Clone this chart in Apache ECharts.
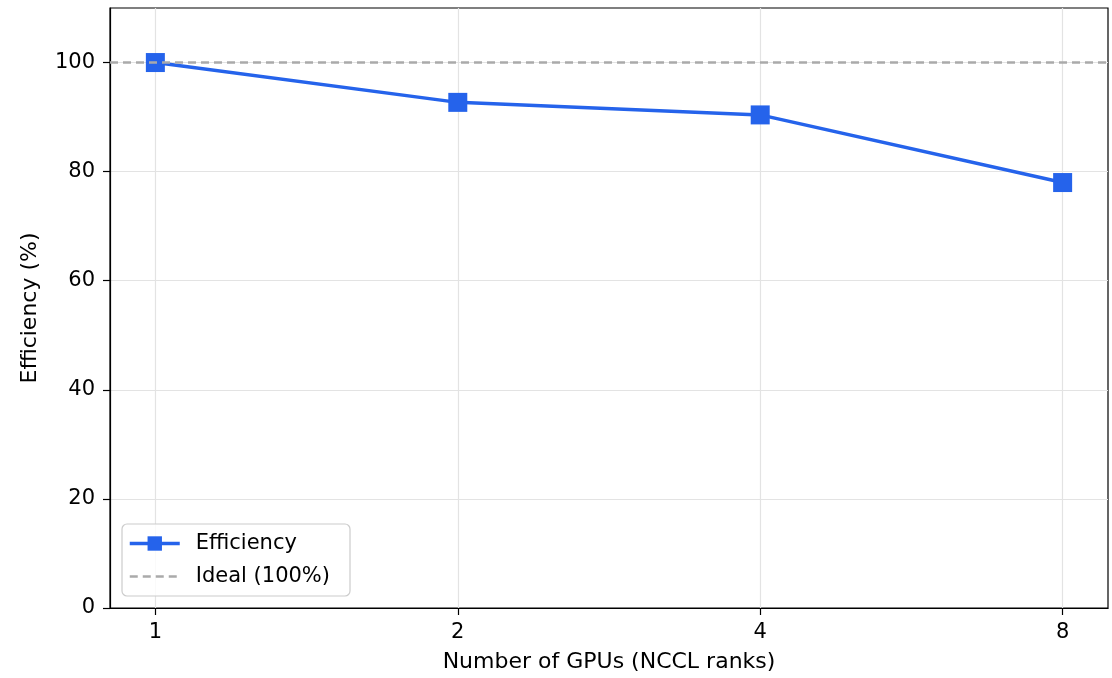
<!DOCTYPE html>
<html>
<head>
<meta charset="utf-8">
<script src="https://cdn.jsdelivr.net/npm/echarts@6/dist/echarts.min.js"></script>
<style>
  html, body { margin: 0; padding: 0; background: #ffffff; }
  #chart { width: 1112px; height: 678px; }
</style>
</head>
<body>
<div id="chart"></div>
<script>
// GPU counts (shown as evenly spaced categories) and measured scaling efficiency
const gpuLabels = ['1', '2', '4', '8'];
const efficiency = [100, 92.7, 90.4, 78.0];
const idealLevel = 100;
const yTicks = [0, 20, 40, 60, 80, 100];

const FONT = 'DejaVu Sans';
const BLUE = '#2563eb';
const GRAY = '#aaaaaa';

const positions = gpuLabels.map((_, i) => i);
const points = efficiency.map((v, i) => [positions[i], v]);

const chart = echarts.init(document.getElementById('chart'), null, { renderer: 'canvas' });

chart.setOption({
  animation: false,
  backgroundColor: '#ffffff',
  grid: {
    left: 110, right: 4, top: 8, bottom: 70,
    show: true, borderColor: '#000000', borderWidth: 1.2, backgroundColor: 'transparent'
  },
  xAxis: {
    type: 'value',
    min: -0.15,
    max: 3.15,
    name: 'Number of GPUs (NCCL ranks)',
    nameLocation: 'middle',
    nameGap: 43,
    nameTextStyle: { fontFamily: FONT, fontSize: 22, color: '#000' },
    axisLine: { show: true, onZero: false, lineStyle: { color: '#000', width: 1.2 } },
    axisTick: { show: true, length: 7, customValues: positions, lineStyle: { color: '#000', width: 1.2 } },
    axisLabel: {
      customValues: positions,
      margin: 14,
      fontFamily: FONT, fontSize: 21, color: '#000',
      formatter: v => gpuLabels[Math.round(v)]
    },
    splitLine: { show: true, lineStyle: { color: '#e3e3e3', width: 1.2 } }
  },
  yAxis: {
    type: 'value',
    min: 0,
    max: 110,
    name: 'Efficiency (%)',
    nameLocation: 'middle',
    nameGap: 69,
    nameTextStyle: { fontFamily: FONT, fontSize: 22, color: '#000' },
    axisLine: { show: true, onZero: false, lineStyle: { color: '#000', width: 1.2 } },
    axisTick: { show: true, length: 7, customValues: yTicks, lineStyle: { color: '#000', width: 1.2 } },
    axisLabel: {
      customValues: yTicks,
      margin: 15,
      fontFamily: FONT, fontSize: 21, color: '#000'
    },
    splitLine: { show: true, lineStyle: { color: '#e3e3e3', width: 1.2 } }
  },
  legend: {
    orient: 'vertical',
    left: 122,
    top: 524,
    padding: [9, 20, 9, 6],
    itemGap: 12,
    itemWidth: 50,
    itemHeight: 18,
    borderColor: '#cccccc',
    borderWidth: 1.2,
    borderRadius: 5,
    backgroundColor: 'rgba(255,255,255,0.8)',
    textStyle: { fontFamily: FONT, fontSize: 21, color: '#000', padding: [0, 0, 0, 11] },
    data: [
      { name: 'Efficiency', lineStyle: { width: 3.5 } },
      {
        name: 'Ideal (100%)',
        itemStyle: { color: 'rgba(0,0,0,0)', borderWidth: 0 },
        lineStyle: { width: 2.5 }
      }
    ]
  },
  series: [
    {
      name: 'Ideal (100%)',
      type: 'line',
      data: [],
      symbol: 'none',
      lineStyle: { color: GRAY, width: 2.5, type: [8, 5] },
      itemStyle: { color: GRAY },
      markLine: {
        silent: true,
        symbol: 'none',
        label: { show: false },
        lineStyle: { color: GRAY, width: 2.5, type: [8, 5] },
        data: [{ yAxis: idealLevel }]
      },
      z: 1
    },
    {
      name: 'Efficiency',
      type: 'line',
      data: points,
      symbol: 'rect',
      symbolSize: 19,
      showAllSymbol: true,
      lineStyle: { color: BLUE, width: 3.5 },
      itemStyle: { color: BLUE },
      z: 3
    }
  ]
});
</script>
</body>
</html>
